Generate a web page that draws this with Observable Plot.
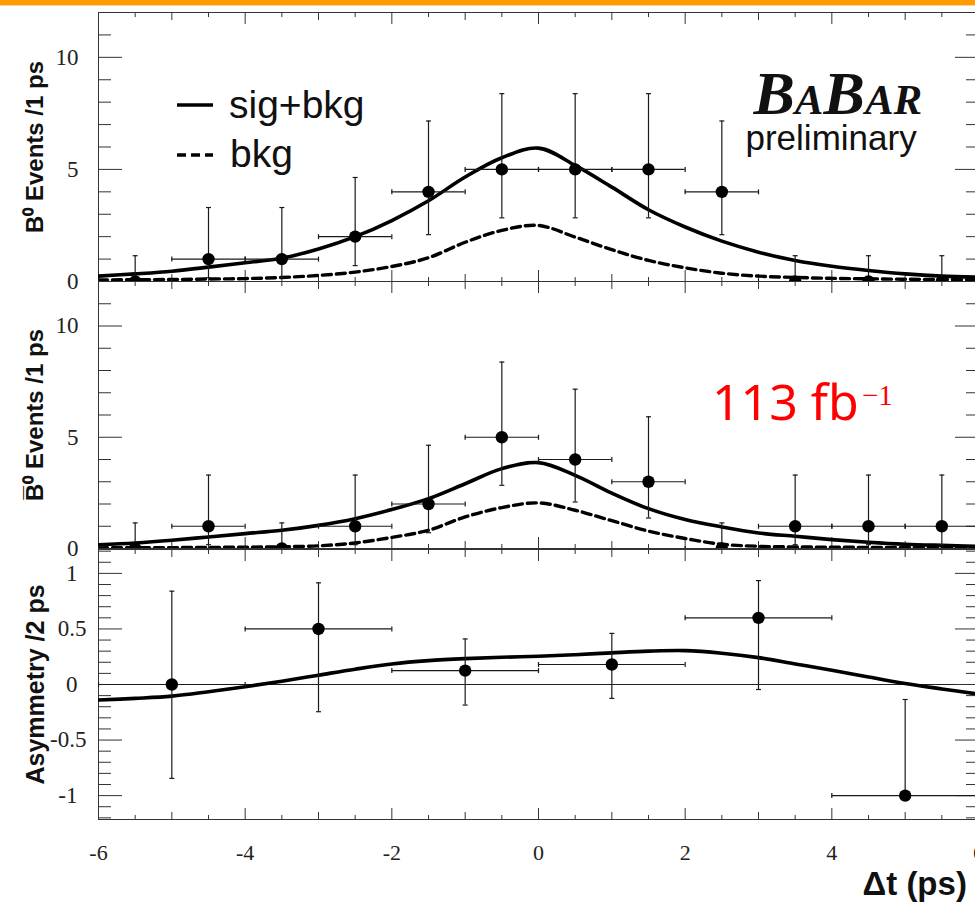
<!DOCTYPE html>
<html><head><meta charset="utf-8">
<script src="https://cdn.jsdelivr.net/npm/d3@7"></script>
<script src="https://cdn.jsdelivr.net/npm/@observablehq/plot@0.6"></script>
<style>
html,body{margin:0;padding:0;background:#fff;}
#wrap{position:relative;width:975px;height:903px;overflow:hidden;background:#fff;}
#topbar{position:absolute;left:0;top:0;width:975px;height:5px;background:#ff9a00;border-bottom:1px solid #ffd79a;}
</style></head><body><div id="wrap"><div id="topbar"></div></div>
<script>
// ---------- data ----------
const binCenters = [-5.5,-4.5,-3.5,-2.5,-1.5,-0.5,0.5,1.5,2.5,3.5,4.5,5.5];
const binHalfWidth = 0.5;
const b0Counts = [0,1,1,2,4,5,5,5,4,0,0,0];
const b0Lo     = [0,0.17,0.17,0.71,2.09,2.84,2.84,2.84,2.09,0,0,0];
const b0Hi     = [1.15,3.3,3.3,4.64,7.16,8.38,8.38,8.38,7.16,1.15,1.15,1.15];
const b0barCounts = [0,1,0,1,2,5,4,3,0,1,1,1];
const b0barLo     = [0,0.17,0,0.17,0.71,2.84,2.09,1.37,0,0.17,0.17,0.17];
const b0barHi     = [1.15,3.3,1.15,3.3,4.64,8.38,7.16,5.92,1.15,3.3,3.3,3.3];

const curveT = [-6,-5.5,-5,-4.5,-4,-3.5,-3,-2.5,-2,-1.5,-1,-0.5,0,0.5,1,1.5,2,2.5,3,3.5,4,4.5,5,5.5,6];
const b0SigBkg    = [0.24,0.34,0.46,0.64,0.84,1.04,1.45,2.0,2.72,3.6,4.66,5.52,5.95,5.18,4.21,3.2,2.43,1.8,1.31,0.94,0.68,0.49,0.34,0.24,0.19];
const b0Bkg       = [0.07,0.08,0.09,0.11,0.13,0.18,0.27,0.42,0.67,1.06,1.75,2.28,2.5,1.98,1.42,0.94,0.61,0.37,0.24,0.18,0.14,0.12,0.1,0.09,0.08];
const b0barSigBkg = [0.17,0.25,0.37,0.52,0.67,0.82,1.04,1.34,1.75,2.24,2.91,3.59,3.86,3.29,2.49,1.79,1.3,0.97,0.7,0.55,0.4,0.28,0.19,0.14,0.1];
const b0barBkg    = [0.03,0.035,0.04,0.05,0.06,0.08,0.12,0.25,0.5,0.82,1.42,1.84,2.05,1.72,1.25,0.78,0.45,0.19,0.1,0.07,0.06,0.05,0.05,0.04,0.04];

const asymT = [-5,-3,-1,1,3,5];
const asymHalfWidth = 1;
const asymVal = [0.0,0.50,0.125,0.18,0.60,-1.0];
const asymHi  = [0.84,0.915,0.41,0.46,0.935,-0.135];
const asymLo  = [-0.845,-0.245,-0.185,-0.125,-0.045,-1.0];
const asymCurve = [-0.14,-0.125,-0.105,-0.065,-0.02,0.03,0.084,0.138,0.185,0.215,0.233,0.245,0.254,0.268,0.285,0.3,0.305,0.282,0.242,0.185,0.128,0.068,0.009,-0.04,-0.087];

const xMajor = [-6,-4,-2,0,2,4,6];
const xMid   = [-5,-3,-1,1,3,5];
const xMinor = [-5.5,-4.5,-3.5,-2.5,-1.5,-0.5,0.5,1.5,2.5,3.5,4.5,5.5];
const countMajor = [0,5,10];
const countMinor = [1,2,3,4,6,7,8,9,11];
const asymMajorInt = [-1,0,1];
const asymMajorHalf = [-0.5,0.5];
const asymMinor = [-1.2,-1.1,-0.9,-0.8,-0.7,-0.6,-0.4,-0.3,-0.2,-0.1,0.1,0.2,0.3,0.4,0.6,0.7,0.8,0.9,1.1,1.2];

const labels = {
  b0: "B\u2070 Events /1 ps",
  b0bar: "B\u0305\u2070 Events /1 ps",
  asym: "Asymmetry /2 ps",
  x: "\u0394t (ps)",
  logo: "BaBar",
  prelim: "preliminary",
  legendSig: "sig+bkg",
  legendBkg: "bkg",
  lumi: "113 fb",
  lumiExp: "\u22121"
};

// ---------- helpers ----------
const INK = "#333";
const BAR = "#1a1a1a";
const capH = {draw(c, s){ const w = Math.sqrt(s / Math.PI); c.moveTo(-w, 0); c.lineTo(w, 0); }};
const capV = {draw(c, s){ const w = Math.sqrt(s / Math.PI); c.moveTo(0, -w); c.lineTo(0, w); }};

function frameTicks(yMajor, yMinor) {
  const t = (o) => ({stroke: INK, strokeWidth: 1, fill: "none", label: null, ...o});
  return [
    Plot.axisY(t({anchor: "left", ticks: yMajor, tickSize: -24})),
    Plot.axisY(t({anchor: "left", ticks: yMinor, tickSize: -13})),
    Plot.axisY(t({anchor: "right", ticks: yMajor, tickSize: -24})),
    Plot.axisY(t({anchor: "right", ticks: yMinor, tickSize: -13})),
    Plot.axisX(t({anchor: "bottom", ticks: xMajor, tickSize: -11})),
    Plot.axisX(t({anchor: "bottom", ticks: xMid, tickSize: -7})),
    Plot.axisX(t({anchor: "bottom", ticks: xMinor, tickSize: -4})),
    Plot.axisX(t({anchor: "top", ticks: xMajor, tickSize: -11})),
    Plot.axisX(t({anchor: "top", ticks: xMid, tickSize: -7})),
    Plot.axisX(t({anchor: "top", ticks: xMinor, tickSize: -4}))
  ];
}
function yTickLabels(ticks, pad) {
  return Plot.axisY({anchor: "left", ticks, tickSize: 0, tickPadding: pad, stroke: "none",
    fill: "#222", fontFamily: "Liberation Serif", fontSize: 23, label: null, tickFormat: d => String(d)});
}
function yTitle(text, size) {
  return Plot.text([text], {text: d => d, frameAnchor: "left", textAnchor: "middle", lineAnchor: "middle",
    rotate: -90, dx: -63, fontFamily: "Liberation Sans", fontWeight: "bold", fontSize: size, fill: "#111"});
}
function errorMarks(pts, half) {
  return [
    Plot.ruleX(pts, {x: "t", y1: "lo", y2: "hi", stroke: BAR, strokeWidth: 1.2, clip: true}),
    Plot.ruleY(pts, {y: "v", x1: d => d.t - half, x2: d => d.t + half, stroke: BAR, strokeWidth: 1.2, clip: true}),
    Plot.dot(pts, {x: "t", y: "hi", symbol: capH, r: 2.5, stroke: BAR, strokeWidth: 1.2, fill: "none"}),
    Plot.dot(pts, {x: "t", y: "lo", symbol: capH, r: 2.5, stroke: BAR, strokeWidth: 1.2, fill: "none", clip: true}),
    Plot.dot(pts, {x: d => d.t - half, y: "v", symbol: capV, r: 2.5, stroke: BAR, strokeWidth: 1.2, fill: "none", clip: true}),
    Plot.dot(pts, {x: d => d.t + half, y: "v", symbol: capV, r: 2.5, stroke: BAR, strokeWidth: 1.2, fill: "none", clip: true}),
    Plot.dot(pts, {x: "t", y: "v", r: 6.2, fill: "black", stroke: "none", clip: true})
  ];
}
function curve(vals, dashed) {
  const data = curveT.map((t, i) => ({t, y: vals[i]}));
  return Plot.line(data, {x: "t", y: "y", stroke: "black", strokeWidth: dashed ? 3.4 : 3.6,
    strokeDasharray: dashed ? "9,5" : null, curve: "catmull-rom", clip: true});
}
function place(svg, top) {
  svg.style.position = "absolute";
  svg.style.left = "0px";
  svg.style.top = top + "px";
  svg.style.background = "transparent";
  svg.style.overflow = "visible";
  svg.style.maxWidth = "none";
  document.getElementById("wrap").appendChild(svg);
}
function countPanel(top, height, mt, mb, counts, lo, hi, sig, bkg, title, extra) {
  const pts = binCenters.map((t, i) => ({t, v: counts[i], lo: lo[i], hi: hi[i]}));
  const svg = Plot.plot({
    width: 978, height, marginLeft: 98, marginRight: 0, marginTop: mt, marginBottom: mb,
    x: {domain: [-6, 6]},
    y: {domain: [0, 12]},
    marks: [
      Plot.frame({stroke: INK, strokeWidth: 1}),
      ...frameTicks(countMajor, countMinor),
      yTickLabels(countMajor, 20),
      yTitle(title, 24),
      curve(bkg, true),
      curve(sig, false),
      ...errorMarks(pts, binHalfWidth),
      ...extra
    ]
  });
  place(svg, top);
}

// ---------- panels ----------
countPanel(0, 300, 12, 19, b0Counts, b0Lo, b0Hi, b0SigBkg, b0Bkg, labels.b0, [
  Plot.text([labels.logo], {text: d => d, frameAnchor: "top-right", textAnchor: "start", lineAnchor: "bottom",
    dx: -225, dy: 101, fontFamily: "Liberation Serif", fontWeight: "bold", fontStyle: "italic",
    fontVariant: "small-caps", fontSize: 62, fill: "#111"}),
  Plot.text([labels.prelim], {text: d => d, frameAnchor: "top-right", textAnchor: "start", lineAnchor: "bottom",
    dx: -233, dy: 137, fontFamily: "Liberation Sans", fontSize: 35, fill: "#111"})
]);
countPanel(262, 300, 19, 14, b0barCounts, b0barLo, b0barHi, b0barSigBkg, b0barBkg, labels.b0bar, []);

{
  const pts = asymT.map((t, i) => ({t, v: asymVal[i], lo: asymLo[i], hi: asymHi[i]}));
  const svg = Plot.plot({
    width: 978, height: 373, marginLeft: 98, marginRight: 0, marginTop: 19, marginBottom: 84,
    x: {domain: [-6, 6]},
    y: {domain: [-1.215, 1.215]},
    marks: [
      Plot.frame({stroke: INK, strokeWidth: 1}),
      Plot.ruleY([0], {stroke: "#222", strokeWidth: 1}),
      ...frameTicks([...asymMajorInt, ...asymMajorHalf], asymMinor),
      yTickLabels(asymMajorInt, 21),
      yTickLabels(asymMajorHalf, 12),
      Plot.axisX({anchor: "bottom", ticks: xMajor, tickSize: 0, tickPadding: 25, stroke: "none",
        fill: "#222", fontFamily: "Liberation Serif", fontSize: 22, label: null, tickFormat: d => String(d)}),
      yTitle(labels.asym, 25),
      Plot.text([labels.x], {text: d => d, frameAnchor: "bottom-right", textAnchor: "start", lineAnchor: "bottom",
        dx: -116, dy: 75, fontFamily: "Liberation Sans", fontWeight: "bold", fontSize: 33, fill: "#111"}),
      curve(asymCurve, false),
      ...errorMarks(pts, asymHalfWidth)
    ]
  });
  place(svg, 530);
}

// ---------- legend & luminosity note ----------
{
  const ov = d3.select("#wrap").append("svg")
    .attr("width", 975).attr("height", 903)
    .style("position", "absolute").style("left", "0px").style("top", "0px")
    .style("pointer-events", "none");
  const lg = ov.append("g").attr("font-family", "Liberation Sans").attr("font-size", 39).attr("fill", "#111");
  lg.append("line").attr("x1", 177).attr("x2", 213).attr("y1", 105).attr("y2", 105)
    .attr("stroke", "black").attr("stroke-width", 3.6);
  lg.append("text").attr("x", 229).attr("y", 118).text(labels.legendSig);
  lg.append("line").attr("x1", 177).attr("x2", 213).attr("y1", 155).attr("y2", 155)
    .attr("stroke", "black").attr("stroke-width", 3.4).attr("stroke-dasharray", "9,5");
  lg.append("text").attr("x", 230).attr("y", 167).text(labels.legendBkg);

  const lum = ov.append("text").attr("x", 712).attr("y", 420).attr("fill", "#ff0000");
  lum.append("tspan").attr("font-family", "Noto Sans").attr("font-size", 50).text(labels.lumi);
  lum.append("tspan").attr("x", 862).attr("y", 405).attr("font-family", "Liberation Serif").attr("font-size", 29).text(labels.lumiExp);
}
</script></body></html>
